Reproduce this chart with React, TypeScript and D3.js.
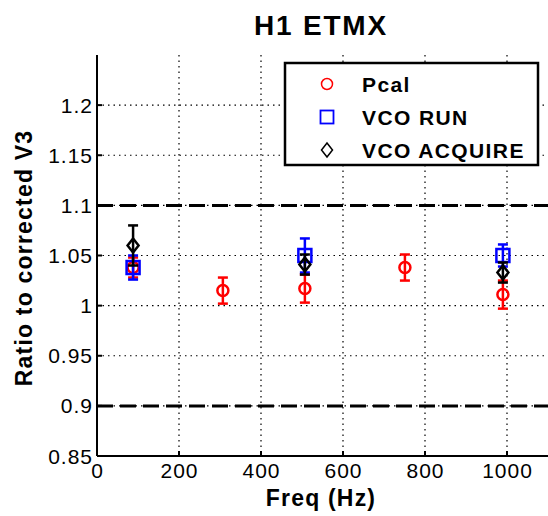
import React from "react";
import * as d3 from "d3";

const W = 548, H = 516;
const xTicks = [0, 200, 400, 600, 800, 1000];
const yTicks = [0.85, 0.9, 0.95, 1, 1.05, 1.1, 1.15, 1.2];
const yTickLabels = ["0.85", "0.9", "0.95", "1", "1.05", "1.1", "1.15", "1.2"];
const dashedLevels = [1.1, 0.9];

const pcalFreq = [88, 307, 507, 751, 990];
const pcalVal = [1.038, 1.015, 1.017, 1.038, 1.011];
const pcalErr = [0.01, 0.013, 0.014, 0.013, 0.014];

const runFreq = [88, 507, 990];
const runVal = [1.038, 1.05, 1.05];
const runErr = [0.012, 0.017, 0.011];

const acqFreq = [88, 507, 990];
const acqVal = [1.06, 1.041, 1.033];
const acqErr = [0.02, 0.01, 0.01];

const legendLabels = ["Pcal", "VCO RUN", "VCO ACQUIRE"];

export default function App() {
  const x = d3.scaleLinear().domain([0, 1100]).range([97, 548]);
  const y = d3.scaleLinear().domain([0.85, 1.25]).range([456, 55]);
  const font = "'Liberation Sans', Arial, sans-serif";

  const errBar = (fx: number, v: number, e: number, color: string, key: string) => {
    const cx = x(fx);
    return (
      <g key={key} stroke={color} strokeWidth={2.5}>
        <line x1={cx} x2={cx} y1={y(v + e)} y2={y(v - e)} />
        <line x1={cx - 5} x2={cx + 5} y1={y(v + e)} y2={y(v + e)} />
        <line x1={cx - 5} x2={cx + 5} y1={y(v - e)} y2={y(v - e)} />
      </g>
    );
  };
  const circle = (cx: number, cy: number, key: string, sw = 2.5) => (
    <ellipse key={key} cx={cx} cy={cy} rx={5.5} ry={5.5} fill="none" stroke="#ff0000" strokeWidth={sw} />
  );
  const square = (cx: number, cy: number, key: string) => (
    <rect key={key} x={cx - 6.5} y={cy - 6.5} width={13} height={13} fill="none" stroke="#0000ff" strokeWidth={2.5} />
  );
  const diamond = (cx: number, cy: number, key: string, sw = 2.5) => (
    <path key={key} d={`M${cx},${cy - 7}L${cx + 5.5},${cy}L${cx},${cy + 7}L${cx - 5.5},${cy}Z`} fill="none" stroke="#000" strokeWidth={sw} />
  );

  return (
    <svg width={W} height={H} style={{ position: "absolute", left: 0, top: 0 }}>
      <rect width={W} height={H} fill="#fff" />
      {/* grid */}
      {xTicks.slice(1).map((t) => (
        <line key={"gx" + t} x1={x(t)} x2={x(t)} y1={y(1.25)} y2={y(0.85)} stroke="#000" strokeWidth={1.2} strokeDasharray="1.5,4" />
      ))}
      {yTicks.slice(1).map((t) => (
        <line key={"gy" + t} x1={x(0)} x2={x(1100)} y1={y(t)} y2={y(t)} stroke="#000" strokeWidth={1.2} strokeDasharray="1.5,4" />
      ))}
      {dashedLevels.map((t) => (
        <line key={"d" + t} x1={x(0)} x2={x(1100)} y1={y(t)} y2={y(t)} stroke="#000" strokeWidth={3} strokeDasharray="16,7" />
      ))}
      {/* axes */}
      <line x1={x(0)} x2={x(0)} y1={y(1.25)} y2={y(0.85)} stroke="#000" strokeWidth={2} />
      <line x1={x(0)} x2={x(1100)} y1={y(0.85)} y2={y(0.85)} stroke="#000" strokeWidth={2} />
      {yTicks.map((t, i) => (
        <g key={"yt" + t}>
          <line x1={x(0)} x2={x(0) + 5} y1={y(t)} y2={y(t)} stroke="#000" strokeWidth={2} />
          <text x={x(0) - 4} y={y(t)} dy="0.36em" textAnchor="end" fontFamily={font} fontSize={21} letterSpacing={1}>{yTickLabels[i]}</text>
        </g>
      ))}
      {xTicks.map((t) => (
        <g key={"xt" + t}>
          <line x1={x(t)} x2={x(t)} y1={y(0.85)} y2={y(0.85) - 5} stroke="#000" strokeWidth={2} />
          <text x={x(t) + 0.5} y={y(0.85) + 22} textAnchor="middle" fontFamily={font} fontSize={21} letterSpacing={1}>{t}</text>
        </g>
      ))}
      {/* data: Pcal */}
      {pcalFreq.map((f, i) => errBar(f, pcalVal[i], pcalErr[i], "#ff0000", "pe" + i))}
      {pcalFreq.map((f, i) => circle(x(f), y(pcalVal[i]), "pc" + i))}
      {/* VCO RUN */}
      {runFreq.map((f, i) => errBar(f, runVal[i], runErr[i], "#0000ff", "re" + i))}
      {runFreq.map((f, i) => square(x(f), y(runVal[i]), "rs" + i))}
      {/* VCO ACQUIRE */}
      {acqFreq.map((f, i) => errBar(f, acqVal[i], acqErr[i], "#000", "ae" + i))}
      {acqFreq.map((f, i) => diamond(x(f), y(acqVal[i]), "ad" + i))}
      {/* legend */}
      <rect x={285} y={63} width={253} height={102} fill="#fff" stroke="#000" strokeWidth={2.5} />
      {circle(327, 84, "lc", 1.5)}
      <rect x={320.5} y={110.5} width={13} height={13} fill="none" stroke="#0000ff" strokeWidth={1.8} />
      {diamond(327, 150, "ld", 1.5)}
      {legendLabels.map((l, i) => (
        <text key={l} x={362} y={84 + i * 33} dy="0.36em" fontFamily={font} fontSize={21} fontWeight="bold" letterSpacing={1.4}>{l}</text>
      ))}
      {/* titles */}
      <text x={321} y={35} textAnchor="middle" fontFamily={font} fontSize={28} fontWeight="bold" letterSpacing={1.8}>H1 ETMX</text>
      <text x={321} y={506} textAnchor="middle" fontFamily={font} fontSize={23} fontWeight="bold" letterSpacing={1.2}>Freq (Hz)</text>
      <text transform={`translate(32,258) rotate(-90)`} textAnchor="middle" fontFamily={font} fontSize={23} fontWeight="bold" letterSpacing={1.2}>Ratio to corrected V3</text>
    </svg>
  );
}
